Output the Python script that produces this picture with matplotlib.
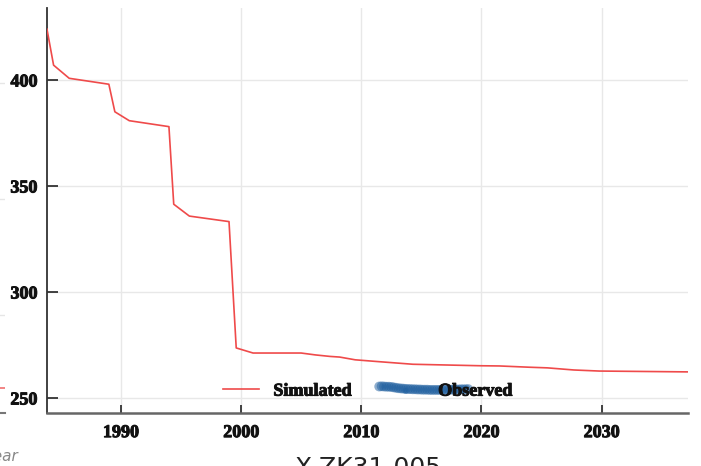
import matplotlib.pyplot as pl
import matplotlib.patheffects as pe
import numpy as np

# simulated water level
sim_year = [1983.85, 1984.4, 1985.7, 1989.0, 1989.5, 1990.7, 1994.0, 1994.4, 1995.7, 1999.0,
            1999.6, 2001.0, 2005.0, 2006.2, 2007.4, 2008.2, 2009.5, 2011.3, 2014.3, 2019.9,
            2021.5, 2024.0, 2025.5, 2027.7, 2029.8, 2037.2]
sim_val = [424.0, 407.0, 400.8, 398.0, 385.0, 380.8, 378.0, 341.4, 335.8, 333.2,
           273.6, 271.2, 271.2, 270.3, 269.6, 269.3, 268.0, 267.2, 265.9, 265.2,
           265.1, 264.5, 264.2, 263.2, 262.7, 262.3]

# observed water level
obs_year = [2011.5, 2011.7, 2011.9, 2012.1, 2012.3, 2012.5, 2012.7, 2012.9, 2013.1, 2013.3,
            2013.5, 2013.7, 2013.9, 2014.1, 2014.3, 2014.5, 2014.7, 2014.9, 2015.1, 2015.3,
            2015.5, 2015.7, 2015.9, 2016.1, 2016.3, 2016.5, 2016.7, 2016.9, 2017.1, 2017.3,
            2017.5, 2017.7, 2017.9, 2018.1, 2018.3, 2018.5, 2018.7, 2018.9]
obs_val = [255.4, 255.5, 255.4, 255.3, 255.3, 255.2, 255.0, 254.8, 254.6, 254.5,
           254.4, 254.3, 254.2, 254.2, 254.1, 254.1, 254.0, 254.0, 253.9, 253.9,
           253.9, 253.8, 253.8, 253.8, 253.8, 253.8, 253.8, 253.9, 253.9, 253.9,
           253.9, 254.0, 254.0, 254.0, 254.1, 254.1, 254.1, 254.2]

xticks = [1990, 2000, 2010, 2020, 2030]
yticks = [250, 300, 350, 400]
title = 'X-ZK31-005'

# neighbouring panel (only its right edge shows)
nb_yticks = [300, 350, 400]
nb_year = [2030, 2040]
nb_val = [268.6, 268.6]

tick_font = {'family': 'Liberation Serif', 'weight': 'bold', 'size': 13}
heavy = [pe.withStroke(linewidth=0.7, foreground='#111111')]

fig = pl.figure(figsize=(7.01, 4.66), dpi=100)

# neighbour panel fragment
ax0 = fig.add_axes([-0.9, 0.1137, 0.907, 0.8693])
ax0.set_xlim(1983.85, 2037.2)
ax0.set_ylim(257.8, 432.3)
ax0.set_yticks(nb_yticks)
ax0.set_yticklabels([])
ax0.set_xticks([])
ax0.grid(axis='y', color='#e6e6e6', lw=1)
ax0.plot(nb_year, nb_val, color='#f07070', lw=1.2)
for s in ['top', 'right', 'left']:
    ax0.spines[s].set_visible(False)
ax0.spines['bottom'].set_color('#777777')
ax0.spines['bottom'].set_linewidth(1.5)

ax = fig.add_axes([0.067, 0.1137, 0.9145, 0.8693])
ax.plot(sim_year, sim_val, color='#ef4a4a', lw=1.2, label='Simulated', zorder=3)
ax.scatter(obs_year, obs_val, s=50, color='#1f5f9f', alpha=0.5, edgecolors='none',
           label='Observed', zorder=4)

ax.set_xlim(1983.85, 2037.2)
ax.set_ylim(242.9, 434.0)
ax.set_xticks(xticks)
ax.set_yticks(yticks)
ax.grid(color='#e8e8e8', lw=1)
ax.set_axisbelow(True)

for s in ['top', 'right']:
    ax.spines[s].set_visible(False)
ax.spines['left'].set_color('#333333')
ax.spines['left'].set_linewidth(1.3)
ax.spines['bottom'].set_color('#666666')
ax.spines['bottom'].set_linewidth(1.8)

ax.tick_params(axis='y', direction='in', length=8, width=1.2, color='#222222', pad=7)
ax.tick_params(axis='x', direction='in', length=6, width=1.2, color='#222222', pad=8)
for lab in ax.get_xticklabels() + ax.get_yticklabels():
    lab.set_fontfamily(tick_font['family'])
    lab.set_fontweight(tick_font['weight'])
    lab.set_fontsize(tick_font['size'])
    lab.set_color('#111111')
    lab.set_path_effects(heavy)

leg = ax.legend(loc='center', bbox_to_anchor=(0.5, 0.054), ncol=2, frameon=False,
                prop=tick_font, handlelength=2.0, handletextpad=0.8, columnspacing=2.0,
                markerscale=0.6)
for t in leg.get_texts():
    t.set_color('#111111')
    t.set_path_effects(heavy)

fig.text(0.026, 0.005, 'Year', ha='right', va='bottom', fontsize=11, style='italic',
         color='#888888')
fig.text(0.524, 0.021, title, ha='center', va='top', fontsize=18, color='#222222')

fig.savefig('out.png', dpi=100)
